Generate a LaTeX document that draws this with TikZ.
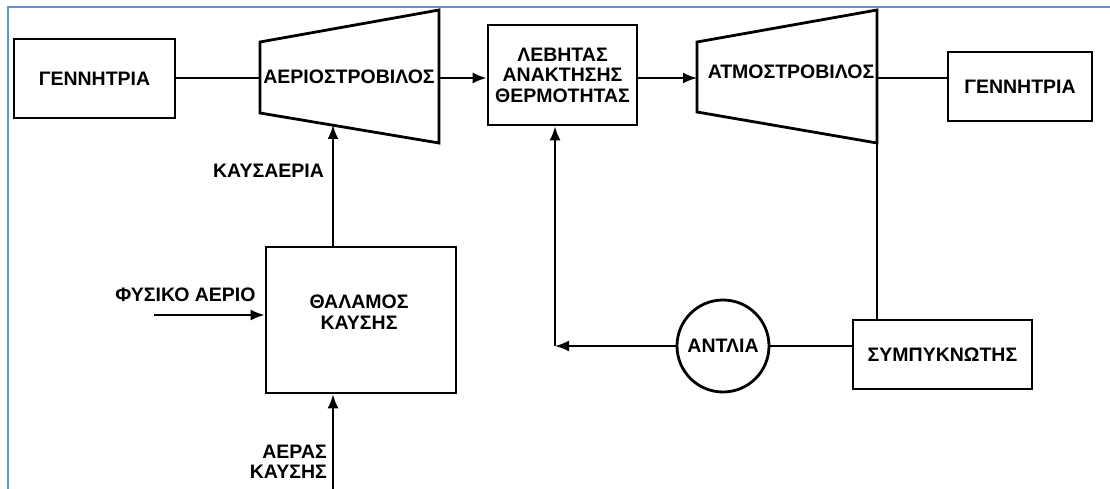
\documentclass[tikz,border=0pt]{standalone}
\usepackage{fontspec}
\setmainfont{Liberation Sans}
\usetikzlibrary{arrows.meta}

\definecolor{framblue}{RGB}{98,146,212}

\begin{document}
\begin{tikzpicture}[x=1pt,y=-1pt]
\tikzstyle{every node}+=[inner sep=0pt, font=\fontsize{19.5}{20.5}\selectfont\bfseries]
\tikzstyle{box}=[draw=black, line width=2.8pt]
\tikzstyle{pipe}=[draw=black, line width=2pt]
\tikzstyle{flow}=[pipe, -{Latex[length=14pt,width=11pt]}]
\useasboundingbox (0,0) rectangle (1110,489);
% screenshot frame
\draw [framblue, line width=2.6pt] (8,492) -- (8,7) -- (1113,7);
% gas turbine side
\node [box, minimum width=161pt, minimum height=79pt] (gen1) at (94.5,78.5) {ΓΕΝΝΗΤΡΙΑ};
\coordinate (gtW) at (260,78);
\coordinate (gtE) at (439,78);
\coordinate (gtB) at (333,125);
\draw [box, line join=miter] (260,42) -- (439,10) -- (439,143) -- (260,113) -- cycle;
\node (gt) at (349,77) {ΑΕΡΙΟΣΤΡΟΒΙΛΟΣ};
\node [box, minimum width=190pt, minimum height=146pt] (chamber) at (361,320) {};
\node [align=center] (chamberlbl) at (359,312) {ΘΑΛΑΜΟΣ\\ΚΑΥΣΗΣ};
\node (fumes) at (268.5,171) {ΚΑΥΣΑΕΡΙΑ};
\node (fuel) at (185.5,295) {ΦΥΣΙΚΟ ΑΕΡΙΟ};
\node [align=right, anchor=east] (air) at (327,462) {ΑΕΡΑΣ\\ΚΑΥΣΗΣ};
\coordinate (fuelin) at (154,315);
\coordinate (airin) at (333,492);
% steam side
\node [box, minimum width=149pt, minimum height=100pt, align=center] (boiler) at (562.5,75) {ΛΕΒΗΤΑΣ\\ΑΝΑΚΤΗΣΗΣ\\ΘΕΡΜΟΤΗΤΑΣ};
\coordinate (stW) at (697,78);
\coordinate (stE) at (877,78);
\coordinate (stB) at (877,143);
\draw [box, line join=miter] (697,42) -- (877,10) -- (877,143) -- (697,112) -- cycle;
\node (st) at (791,72) {ΑΤΜΟΣΤΡΟΒΙΛΟΣ};
\node [box, minimum width=144pt, minimum height=69pt] (gen2) at (1020,86.5) {ΓΕΝΝΗΤΡΙΑ};
\node [box, minimum width=179pt, minimum height=69pt] (cond) at (942.5,354.5) {ΣΥΜΠΥΚΝΩΤΗΣ};
\node [box, circle, minimum size=92pt] (pump) at (723,346) {ΑΝΤΛΙΑ};
\coordinate (ret) at (555,346);
% connections
\draw [pipe] (gen1.east |- gtW) -- (gtW);
\draw [flow] (gtE) -- (gtE -| boiler.west);
\draw [flow] (gtB |- chamber.north) -- (gtB);
\draw [flow] (fuelin) -- (fuelin -| chamber.west);
\draw [flow] (airin) -- (airin |- chamber.south);
\draw [flow] (boiler.east |- stW) -- (stW);
\draw [pipe] (stE) -- (stE -| gen2.west);
\draw [pipe] (stB) -- (stB |- cond.north);
\draw [pipe] (cond.west |- pump.east) -- (pump.east);
\draw [flow] (pump.west) -- (ret);
\draw [flow] (ret) -- (ret |- boiler.south);
\end{tikzpicture}
\end{document}
